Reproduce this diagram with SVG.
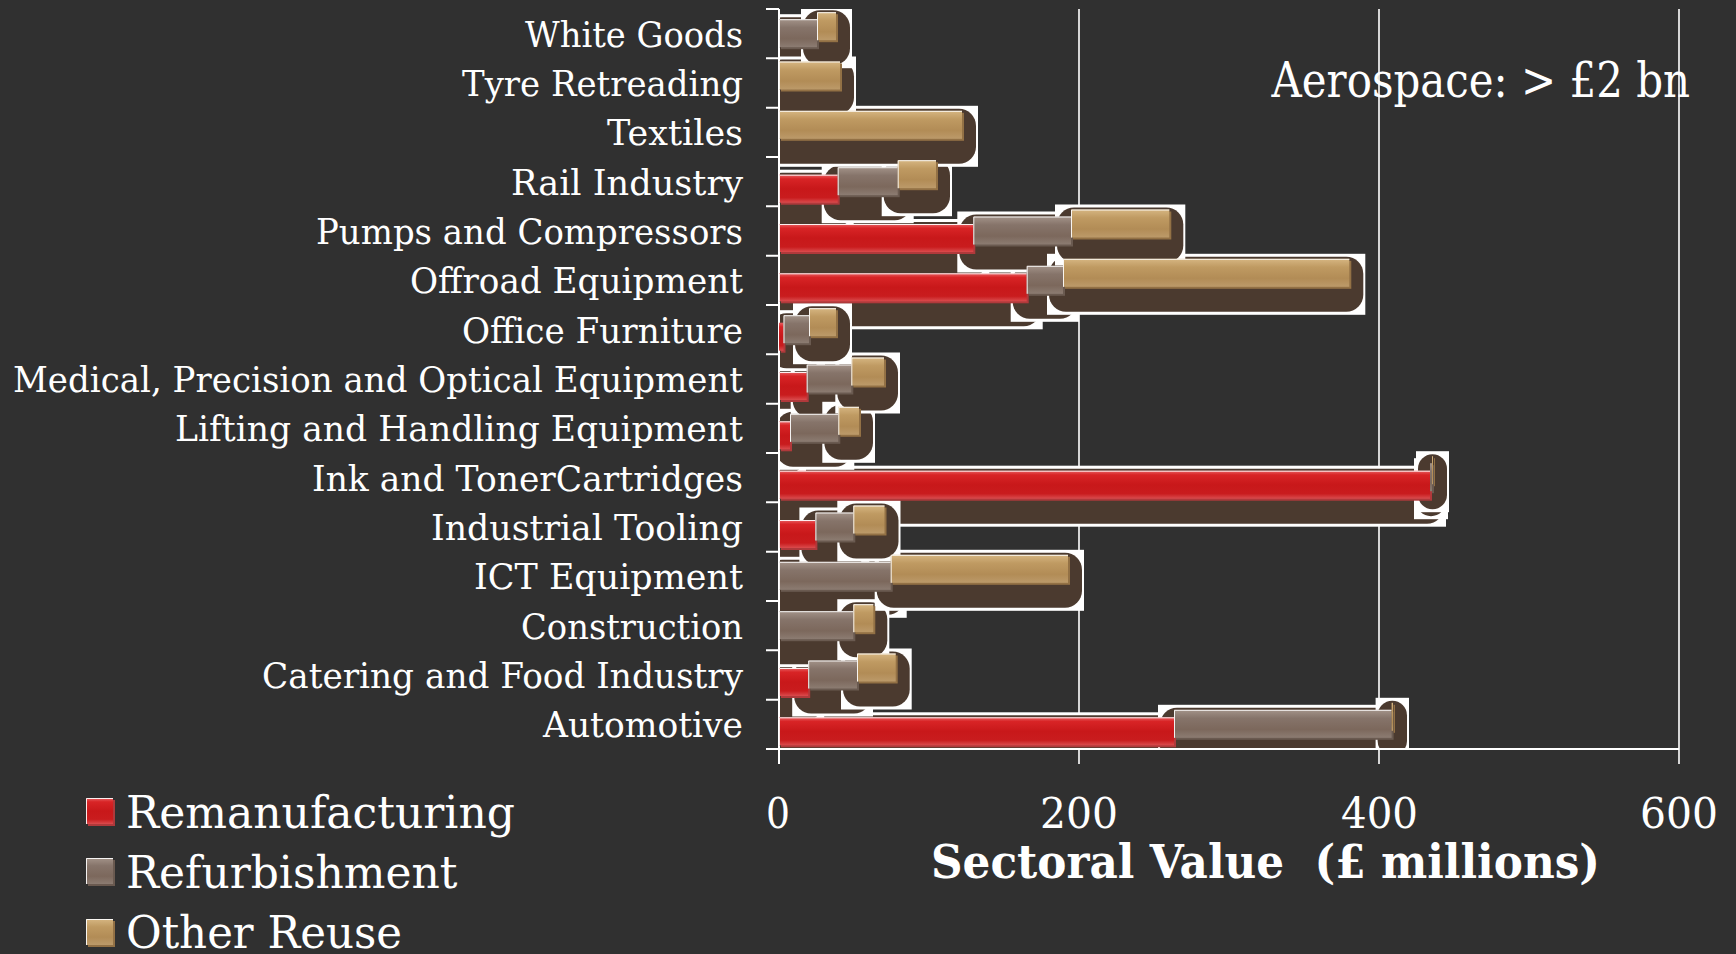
<svg xmlns="http://www.w3.org/2000/svg" width="1736" height="954" viewBox="0 0 1736 954">
<style>
.lbl{font-family:"DejaVu Serif","Liberation Serif",serif;font-size:36px;fill:#FFFFFF}
.big{font-family:"DejaVu Serif","Liberation Serif",serif;font-size:45px;fill:#FFFFFF}
.tick{font-family:"DejaVu Serif","Liberation Serif",serif;font-size:42px;fill:#FFFFFF}
.ttl{font-family:"DejaVu Serif","Liberation Serif",serif;font-size:47px;font-weight:bold;fill:#FFFFFF}
.wb{fill:#FFFFFF}
.sh{fill:#4B3A2F}
.rm{fill:url(#gRed)}
.rs{fill:#B0393B}
.gm{fill:url(#gGray)}
.gs{fill:#6A5A50}
.tm{fill:url(#gTan)}
.ts{fill:#937145}
.hl{fill:none;stroke:#FFFFFF;stroke-width:1;stroke-opacity:0.9}
.grid{stroke:#FFFFFF;stroke-width:1.6;fill:none}
.ax{stroke:#FFFFFF;stroke-width:2;fill:none}
</style>
<defs>
<linearGradient id="gRed" x1="0" y1="0" x2="0" y2="1">
<stop offset="0" stop-color="#E86062"/>
<stop offset="0.15" stop-color="#D82426"/>
<stop offset="0.5" stop-color="#C8181A"/>
<stop offset="0.82" stop-color="#C91C1E"/>
<stop offset="1" stop-color="#DA4C4E"/>
</linearGradient>
<linearGradient id="gGray" x1="0" y1="0" x2="0" y2="1">
<stop offset="0" stop-color="#A39389"/>
<stop offset="0.3" stop-color="#86746A"/>
<stop offset="0.7" stop-color="#7C685C"/>
<stop offset="1" stop-color="#8C7C72"/>
</linearGradient>
<linearGradient id="gTan" x1="0" y1="0" x2="0" y2="1">
<stop offset="0" stop-color="#D6B682"/>
<stop offset="0.3" stop-color="#BF9A62"/>
<stop offset="0.7" stop-color="#B28C56"/>
<stop offset="1" stop-color="#BC9A6A"/>
</linearGradient>
<clipPath id="plot"><rect x="779" y="9" width="900" height="740"/></clipPath>
</defs>
<rect x="0" y="0" width="1736" height="954" fill="#303030"/>

<g id="gridlines">
<path class="grid" d="M1079 9V764M1379 9V764M1679 9V764"/>
</g>

<g id="shadows" clip-path="url(#plot)">
<!-- Remanufacturing shadows -->
<rect class="wb" x="763" y="712.3" width="427" height="61"/><rect class="sh" x="765" y="715.3" width="423" height="55" rx="17"/>
<rect class="wb" x="763" y="663" width="61.2" height="61"/><rect class="sh" x="765" y="666" width="57.2" height="55" rx="17"/>
<rect class="wb" x="763" y="515" width="68.4" height="61"/><rect class="sh" x="765" y="518" width="64.4" height="55" rx="17"/>
<rect class="wb" x="763" y="465.7" width="683" height="61"/><rect class="sh" x="765" y="468.7" width="679" height="55" rx="17"/>
<rect class="wb" x="763" y="416.3" width="43" height="61"/><rect class="sh" x="765" y="419.3" width="39" height="55" rx="17"/>
<rect class="wb" x="763" y="367" width="59.7" height="61"/><rect class="sh" x="765" y="370" width="55.7" height="55" rx="17"/>
<rect class="wb" x="763" y="317.7" width="36.5" height="61"/><rect class="sh" x="765" y="320.7" width="32.5" height="55" rx="16"/>
<rect class="wb" x="763" y="268.3" width="279.7" height="61"/><rect class="sh" x="765" y="271.3" width="275.7" height="55" rx="17"/>
<rect class="wb" x="763" y="219" width="226.3" height="61"/><rect class="sh" x="765" y="222" width="222.3" height="55" rx="17"/>
<rect class="wb" x="763" y="169.7" width="90.7" height="61"/><rect class="sh" x="765" y="172.7" width="86.7" height="55" rx="17"/>
<!-- Refurbishment shadows -->
<rect class="wb" x="1158" y="704.8" width="249.6" height="61"/><rect class="sh" x="1160" y="707.8" width="245.6" height="55" rx="17"/>
<rect class="wb" x="792.2" y="655.5" width="80.8" height="61"/><rect class="sh" x="794.2" y="658.5" width="76.8" height="55" rx="17"/>
<rect class="wb" x="763" y="606.2" width="106.3" height="61"/><rect class="sh" x="765" y="609.2" width="102.3" height="55" rx="17"/>
<rect class="wb" x="763" y="556.8" width="143.7" height="61"/><rect class="sh" x="765" y="559.8" width="139.7" height="55" rx="17"/>
<rect class="wb" x="799.4" y="507.5" width="69.9" height="61"/><rect class="sh" x="801.4" y="510.5" width="65.9" height="55" rx="17"/>
<rect class="wb" x="1414" y="458.2" width="34" height="61"/><rect class="sh" x="1416" y="461.2" width="30" height="55" rx="15"/>
<rect class="wb" x="774" y="408.8" width="80.3" height="61"/><rect class="sh" x="776" y="411.8" width="76.3" height="55" rx="17"/>
<rect class="wb" x="790.7" y="359.5" width="76.6" height="61"/><rect class="sh" x="792.7" y="362.5" width="72.6" height="55" rx="17"/>
<rect class="wb" x="767.5" y="310.2" width="57.5" height="61"/><rect class="sh" x="769.5" y="313.2" width="53.5" height="55" rx="17"/>
<rect class="wb" x="1010.7" y="260.8" width="68.3" height="61"/><rect class="sh" x="1012.7" y="263.8" width="64.3" height="55" rx="17"/>
<rect class="wb" x="957.3" y="211.5" width="129.7" height="61"/><rect class="sh" x="959.3" y="214.5" width="125.7" height="55" rx="17"/>
<rect class="wb" x="821.7" y="162.2" width="92" height="61"/><rect class="sh" x="823.7" y="165.2" width="88" height="55" rx="17"/>
<rect class="wb" x="763" y="14.2" width="70" height="61"/><rect class="sh" x="765" y="17.2" width="66" height="55" rx="17"/>
<!-- Other Reuse shadows -->
<rect class="wb" x="1375.6" y="697.8" width="33.4" height="61"/><rect class="sh" x="1377.6" y="700.8" width="29.4" height="55" rx="14.7"/>
<rect class="wb" x="841" y="648.5" width="70.7" height="61"/><rect class="sh" x="843" y="651.5" width="66.7" height="55" rx="17"/>
<rect class="wb" x="837.3" y="599.2" width="52" height="61"/><rect class="sh" x="839.3" y="602.2" width="48" height="55" rx="17"/>
<rect class="wb" x="874.7" y="549.8" width="209.3" height="61"/><rect class="sh" x="876.7" y="552.8" width="205.3" height="55" rx="17"/>
<rect class="wb" x="837.3" y="500.5" width="63.2" height="61"/><rect class="sh" x="839.3" y="503.5" width="59.2" height="55" rx="17"/>
<rect class="wb" x="1416" y="451.2" width="33" height="61"/><rect class="sh" x="1418" y="454.2" width="29" height="55" rx="14.5"/>
<rect class="wb" x="822.3" y="401.8" width="52.7" height="61"/><rect class="sh" x="824.3" y="404.8" width="48.7" height="55" rx="17"/>
<rect class="wb" x="835.3" y="352.5" width="64.7" height="61"/><rect class="sh" x="837.3" y="355.5" width="60.7" height="55" rx="17"/>
<rect class="wb" x="793" y="303.2" width="59" height="61"/><rect class="sh" x="795" y="306.2" width="55" height="55" rx="17"/>
<rect class="wb" x="1047" y="253.8" width="318.3" height="61"/><rect class="sh" x="1049" y="256.8" width="314.3" height="55" rx="17"/>
<rect class="wb" x="1055" y="204.5" width="130.3" height="61"/><rect class="sh" x="1057" y="207.5" width="126.3" height="55" rx="17"/>
<rect class="wb" x="881.7" y="155.2" width="70.3" height="61"/><rect class="sh" x="883.7" y="158.2" width="66.3" height="55" rx="17"/>
<rect class="wb" x="763" y="105.8" width="215" height="61"/><rect class="sh" x="765" y="108.8" width="211" height="55" rx="17"/>
<rect class="wb" x="763" y="56.5" width="93" height="61"/><rect class="sh" x="765" y="59.5" width="89" height="55" rx="17"/>
<rect class="wb" x="801" y="7.2" width="51" height="61"/><rect class="sh" x="803" y="10.2" width="47" height="55" rx="17"/>
</g>

<g id="axes">
<path class="ax" d="M779 9V764M766 749H1679"/>
<path class="ax" d="M766 9H779M766 58.3H779M766 107.7H779M766 157H779M766 206.3H779M766 255.7H779M766 305H779M766 354.3H779M766 403.7H779M766 453H779M766 502.3H779M766 551.7H779M766 601H779M766 650.3H779M766 699.7H779"/>
<text class="tick" x="766" y="828" textLength="24" lengthAdjust="spacingAndGlyphs">0</text>
<text class="tick" x="1040" y="828" textLength="78" lengthAdjust="spacingAndGlyphs">200</text>
<text class="tick" x="1341" y="828" textLength="77" lengthAdjust="spacingAndGlyphs">400</text>
<text class="tick" x="1640" y="828" textLength="78" lengthAdjust="spacingAndGlyphs">600</text>
<text class="ttl" x="931" y="878" textLength="669" lengthAdjust="spacingAndGlyphs" xml:space="preserve">Sectoral Value  (£ millions)</text>
</g>

<g id="cat-automotive">
<text class="lbl" x="543" y="737.1" textLength="200" lengthAdjust="spacingAndGlyphs">Automotive</text>
<rect class="rs" x="781" y="719.3" width="395" height="28"/><rect class="rm" x="779" y="717.3" width="395" height="28"/><path class="hl" d="M779.5 745.3V717.8H1174"/>
<rect class="gs" x="1176" y="711.8" width="217.6" height="28"/><rect class="gm" x="1174" y="709.8" width="217.6" height="28"/><path class="hl" d="M1174.5 737.8V710.3H1391.6"/>
<rect class="ts" x="1393.6" y="704.8" width="1.4" height="28"/><rect class="tm" x="1391.6" y="702.8" width="1.4" height="28"/>
</g>
<g id="cat-catering">
<text class="lbl" x="262" y="687.8" textLength="481" lengthAdjust="spacingAndGlyphs">Catering and Food Industry</text>
<rect class="rs" x="781" y="670" width="29.2" height="28"/><rect class="rm" x="779" y="668" width="29.2" height="28"/><path class="hl" d="M779.5 696V668.5H808.2"/>
<rect class="gs" x="810.2" y="662.5" width="48.8" height="28"/><rect class="gm" x="808.2" y="660.5" width="48.8" height="28"/><path class="hl" d="M808.7 688.5V661H857"/>
<rect class="ts" x="859" y="655.5" width="38.7" height="28"/><rect class="tm" x="857" y="653.5" width="38.7" height="28"/><path class="hl" d="M857.5 681.5V654H895.7"/>
</g>
<g id="cat-construction">
<text class="lbl" x="521" y="638.5" textLength="222" lengthAdjust="spacingAndGlyphs">Construction</text>
<rect class="gs" x="781" y="613.2" width="74.3" height="28"/><rect class="gm" x="779" y="611.2" width="74.3" height="28"/><path class="hl" d="M779.5 639.2V611.7H853.3"/>
<rect class="ts" x="855.3" y="606.2" width="20" height="28"/><rect class="tm" x="853.3" y="604.2" width="20" height="28"/><path class="hl" d="M853.8 632.2V604.7H873.3"/>
</g>
<g id="cat-ict">
<text class="lbl" x="474" y="589.1" textLength="269" lengthAdjust="spacingAndGlyphs">ICT Equipment</text>
<rect class="gs" x="781" y="563.8" width="111.7" height="28"/><rect class="gm" x="779" y="561.8" width="111.7" height="28"/><path class="hl" d="M779.5 589.8V562.3H890.7"/>
<rect class="ts" x="892.7" y="556.8" width="177.3" height="28"/><rect class="tm" x="890.7" y="554.8" width="177.3" height="28"/><path class="hl" d="M891.2 582.8V555.3H1068"/>
</g>
<g id="cat-tooling">
<text class="lbl" x="431" y="539.8" textLength="312" lengthAdjust="spacingAndGlyphs">Industrial Tooling</text>
<rect class="rs" x="781" y="522" width="36.4" height="28"/><rect class="rm" x="779" y="520" width="36.4" height="28"/><path class="hl" d="M779.5 548V520.5H815.4"/>
<rect class="gs" x="817.4" y="514.5" width="37.9" height="28"/><rect class="gm" x="815.4" y="512.5" width="37.9" height="28"/><path class="hl" d="M815.9 540.5V513H853.3"/>
<rect class="ts" x="855.3" y="507.5" width="31.2" height="28"/><rect class="tm" x="853.3" y="505.5" width="31.2" height="28"/><path class="hl" d="M853.8 533.5V506H884.5"/>
</g>
<g id="cat-ink">
<text class="lbl" x="312" y="490.5" textLength="431" lengthAdjust="spacingAndGlyphs">Ink and TonerCartridges</text>
<rect class="rs" x="781" y="472.7" width="651" height="28"/><rect class="rm" x="779" y="470.7" width="651" height="28"/><path class="hl" d="M779.5 498.7V471.2H1430"/>
<rect class="gs" x="1432" y="465.2" width="2" height="28"/><rect class="gm" x="1430" y="463.2" width="2" height="28"/>
<rect class="ts" x="1434" y="458.2" width="1" height="28"/><rect class="tm" x="1432" y="456.2" width="1" height="28"/>
</g>
<g id="cat-lifting">
<text class="lbl" x="175" y="441.1" textLength="568" lengthAdjust="spacingAndGlyphs">Lifting and Handling Equipment</text>
<rect class="rs" x="781" y="423.3" width="11" height="28"/><rect class="rm" x="779" y="421.3" width="11" height="28"/><path class="hl" d="M779.5 449.3V421.8H790"/>
<rect class="gs" x="792" y="415.8" width="48.3" height="28"/><rect class="gm" x="790" y="413.8" width="48.3" height="28"/><path class="hl" d="M790.5 441.8V414.3H838.3"/>
<rect class="ts" x="840.3" y="408.8" width="20.7" height="28"/><rect class="tm" x="838.3" y="406.8" width="20.7" height="28"/><path class="hl" d="M838.8 434.8V407.3H859"/>
</g>
<g id="cat-medical">
<text class="lbl" x="13" y="391.8" textLength="730" lengthAdjust="spacingAndGlyphs">Medical, Precision and Optical Equipment</text>
<rect class="rs" x="781" y="374" width="27.7" height="28"/><rect class="rm" x="779" y="372" width="27.7" height="28"/><path class="hl" d="M779.5 400V372.5H806.7"/>
<rect class="gs" x="808.7" y="366.5" width="44.6" height="28"/><rect class="gm" x="806.7" y="364.5" width="44.6" height="28"/><path class="hl" d="M807.2 392.5V365H851.3"/>
<rect class="ts" x="853.3" y="359.5" width="32.7" height="28"/><rect class="tm" x="851.3" y="357.5" width="32.7" height="28"/><path class="hl" d="M851.8 385.5V358H884"/>
</g>
<g id="cat-office">
<text class="lbl" x="462" y="342.5" textLength="281" lengthAdjust="spacingAndGlyphs">Office Furniture</text>
<rect class="rs" x="781" y="324.7" width="4.5" height="28"/><rect class="rm" x="779" y="322.7" width="4.5" height="28"/>
<rect class="gs" x="785.5" y="317.2" width="25.5" height="28"/><rect class="gm" x="783.5" y="315.2" width="25.5" height="28"/><path class="hl" d="M784 343.2V315.7H809"/>
<rect class="ts" x="811" y="310.2" width="27" height="28"/><rect class="tm" x="809" y="308.2" width="27" height="28"/><path class="hl" d="M809.5 336.2V308.7H836"/>
</g>
<g id="cat-offroad">
<text class="lbl" x="410" y="293.1" textLength="333" lengthAdjust="spacingAndGlyphs">Offroad Equipment</text>
<rect class="rs" x="781" y="275.3" width="247.7" height="28"/><rect class="rm" x="779" y="273.3" width="247.7" height="28"/><path class="hl" d="M779.5 301.3V273.8H1026.7"/>
<rect class="gs" x="1028.7" y="267.8" width="36.3" height="28"/><rect class="gm" x="1026.7" y="265.8" width="36.3" height="28"/><path class="hl" d="M1027.2 293.8V266.3H1063"/>
<rect class="ts" x="1065" y="260.8" width="286.3" height="28"/><rect class="tm" x="1063" y="258.8" width="286.3" height="28"/><path class="hl" d="M1063.5 286.8V259.3H1349.3"/>
</g>
<g id="cat-pumps">
<text class="lbl" x="316" y="243.8" textLength="427" lengthAdjust="spacingAndGlyphs">Pumps and Compressors</text>
<rect class="rs" x="781" y="226" width="194.3" height="28"/><rect class="rm" x="779" y="224" width="194.3" height="28"/><path class="hl" d="M779.5 252V224.5H973.3"/>
<rect class="gs" x="975.3" y="218.5" width="97.7" height="28"/><rect class="gm" x="973.3" y="216.5" width="97.7" height="28"/><path class="hl" d="M973.8 244.5V217H1071"/>
<rect class="ts" x="1073" y="211.5" width="98.3" height="28"/><rect class="tm" x="1071" y="209.5" width="98.3" height="28"/><path class="hl" d="M1071.5 237.5V210H1169.3"/>
</g>
<g id="cat-rail">
<text class="lbl" x="511" y="194.5" textLength="232" lengthAdjust="spacingAndGlyphs">Rail Industry</text>
<rect class="rs" x="781" y="176.7" width="58.7" height="28"/><rect class="rm" x="779" y="174.7" width="58.7" height="28"/><path class="hl" d="M779.5 202.7V175.2H837.7"/>
<rect class="gs" x="839.7" y="169.2" width="60" height="28"/><rect class="gm" x="837.7" y="167.2" width="60" height="28"/><path class="hl" d="M838.2 195.2V167.7H897.7"/>
<rect class="ts" x="899.7" y="162.2" width="38.3" height="28"/><rect class="tm" x="897.7" y="160.2" width="38.3" height="28"/><path class="hl" d="M898.2 188.2V160.7H936"/>
</g>
<g id="cat-textiles">
<text class="lbl" x="607" y="145.1" textLength="136" lengthAdjust="spacingAndGlyphs">Textiles</text>
<rect class="ts" x="781" y="112.8" width="183" height="28"/><rect class="tm" x="779" y="110.8" width="183" height="28"/><path class="hl" d="M779.5 138.8V111.3H962"/>
</g>
<g id="cat-tyre">
<text class="lbl" x="462" y="95.8" textLength="281" lengthAdjust="spacingAndGlyphs">Tyre Retreading</text>
<rect class="ts" x="781" y="63.5" width="61" height="28"/><rect class="tm" x="779" y="61.5" width="61" height="28"/><path class="hl" d="M779.5 89.5V62H840"/>
</g>
<g id="cat-whitegoods">
<text class="lbl" x="525" y="46.5" textLength="218" lengthAdjust="spacingAndGlyphs">White Goods</text>
<rect class="gs" x="781" y="21.2" width="38" height="28"/><rect class="gm" x="779" y="19.2" width="38" height="28"/><path class="hl" d="M779.5 47.2V19.7H817"/>
<rect class="ts" x="819" y="14.2" width="19" height="28"/><rect class="tm" x="817" y="12.2" width="19" height="28"/><path class="hl" d="M817.5 40.2V12.7H836"/>
</g>

<g id="note-aerospace">
<text class="big" x="1271.5" y="96.7" font-size="48" style="font-size:48px" textLength="418.5" lengthAdjust="spacingAndGlyphs">Aerospace: &gt; £2 bn</text>
</g>

<g id="legend">
<g id="legend-reman">
<rect class="rs" x="88" y="800" width="27" height="26"/><rect class="rm" x="86" y="798" width="27" height="26"/><path class="hl" d="M86.5 824V798.5H113"/>
<text class="big" x="126" y="828" textLength="389" lengthAdjust="spacingAndGlyphs">Remanufacturing</text>
</g>
<g id="legend-refurb">
<rect class="gs" x="88" y="860" width="27" height="26"/><rect class="gm" x="86" y="858" width="27" height="26"/><path class="hl" d="M86.5 884V858.5H113"/>
<text class="big" x="126" y="888" textLength="331.5" lengthAdjust="spacingAndGlyphs">Refurbishment</text>
</g>
<g id="legend-reuse">
<rect class="ts" x="88" y="921" width="27" height="26"/><rect class="tm" x="86" y="919" width="27" height="26"/><path class="hl" d="M86.5 945V919.5H113"/>
<text class="big" x="126" y="948" textLength="276" lengthAdjust="spacingAndGlyphs">Other Reuse</text>
</g>
</g>
</svg>
